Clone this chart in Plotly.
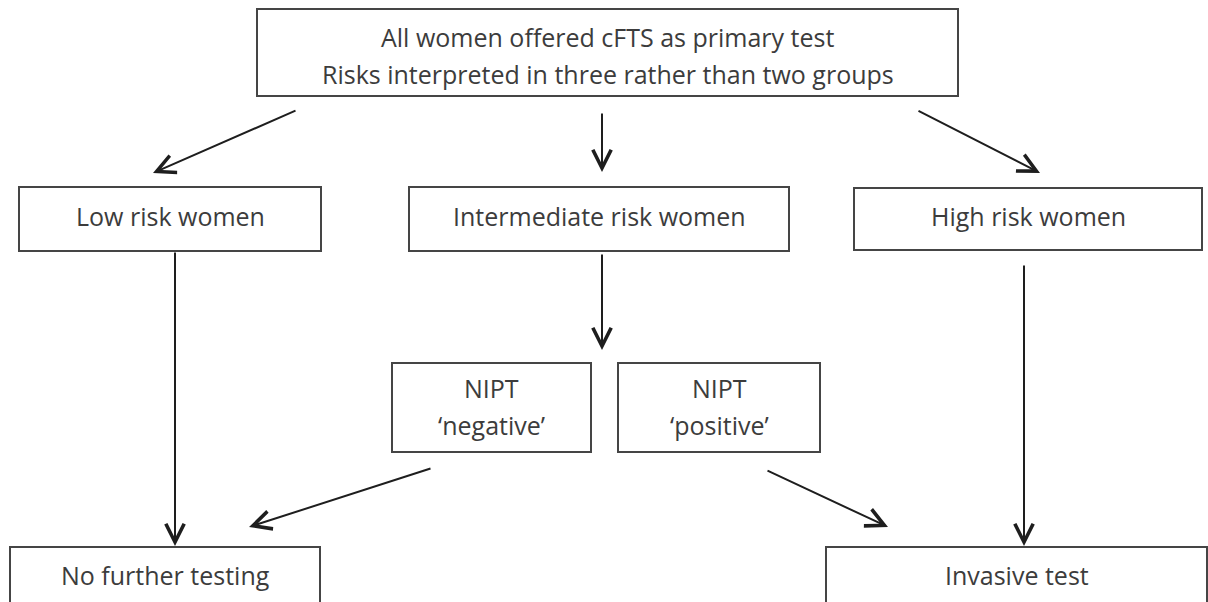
import plotly.graph_objects as go

# Node data (flowchart boxes)
node_lines = [
    ["All women offered cFTS as primary test", "Risks interpreted in three rather than two groups"],
    ["Low risk women"],
    ["Intermediate risk women"],
    ["High risk women"],
    ["NIPT", "\u2018negative\u2019"],
    ["NIPT", "\u2018positive\u2019"],
    ["No further testing"],
    ["Invasive test"],
]
node_x0 = [257, 19, 409, 854, 392, 618, 10, 826]
node_x1 = [958, 321, 789, 1202, 591, 820, 320, 1207]
node_y0 = [9, 187, 187, 188, 363, 363, 547, 547]
node_y1 = [96, 251, 251, 250, 452, 452, 612, 612]
text_y = [[37, 74], [216], [216], [216], [388, 425], [388, 425], [575], [575]]

# Arrows: start (x,y) -> tip (x,y)
arrow_x0 = [297, 602, 917, 175, 602, 432, 766, 1024]
arrow_y0 = [110, 112, 110, 251, 253, 468, 470, 264]
arrow_x1 = [153, 602, 1040, 175, 602, 249, 888, 1024]
arrow_y1 = [173, 172, 173, 546, 350, 527, 527, 546]

W, H = 1208, 602
fig = go.Figure()
fig.add_trace(go.Scatter(x=[0, W], y=[0, H], mode="markers",
                         marker=dict(opacity=0), hoverinfo="skip", showlegend=False))

for i, lines in enumerate(node_lines):
    fig.add_shape(type="rect", xref="x", yref="y",
                  x0=node_x0[i], x1=node_x1[i], y0=node_y0[i], y1=node_y1[i],
                  line=dict(color="#454545", width=2), fillcolor="white", layer="below")
    cx = (node_x0[i] + node_x1[i]) / 2
    for ln, ty in zip(lines, text_y[i]):
        fig.add_annotation(x=cx, y=ty, xref="x", yref="y", text=ln, showarrow=False,
                           font=dict(family="Open Sans", size=25, color="#3c3c3c"),
                           xanchor="center", yanchor="middle")

for i in range(len(arrow_x0)):
    fig.add_annotation(x=arrow_x1[i], y=arrow_y1[i], ax=arrow_x0[i], ay=arrow_y0[i],
                       xref="x", yref="y", axref="x", ayref="y", text="",
                       showarrow=True, arrowhead=5, arrowsize=1.8, arrowwidth=2,
                       arrowcolor="#1e1e1e", standoff=0)

fig.update_xaxes(range=[0, W], visible=False, fixedrange=True)
fig.update_yaxes(range=[H, 0], visible=False, fixedrange=True)
fig.update_layout(width=W, height=H, margin=dict(l=0, r=0, t=0, b=0),
                  plot_bgcolor="white", paper_bgcolor="white", showlegend=False,
                  hovermode=False)
fig.write_html("out.html", config={"displayModeBar": False, "staticPlot": True},
               post_script="document.body.style.margin='0';document.body.style.overflow='hidden';")
